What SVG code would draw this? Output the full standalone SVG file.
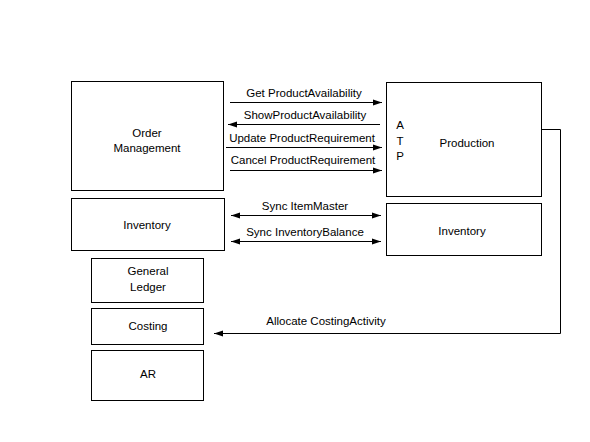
<svg xmlns="http://www.w3.org/2000/svg" width="590" height="442" viewBox="0 0 590 442">
<defs>
<style>
.box{fill:#fff;stroke:#000;stroke-width:1}
.t{font-family:"Liberation Sans",Arial,sans-serif;font-size:11.5px;fill:#000;text-anchor:middle}
.c{fill:none;stroke:#000;stroke-width:1}
</style>
<marker id="ah" markerWidth="10" markerHeight="8" refX="9" refY="4" orient="auto-start-reverse" markerUnits="userSpaceOnUse">
<path d="M0,1 L9,4 L0,7 Z" fill="#000"/>
</marker>
</defs>
<rect width="590" height="442" fill="#fff"/>
<g id="order-management"><rect class="box" x="71.5" y="81.5" width="152" height="109"/><text class="t" x="147" y="137">Order</text><text class="t" x="147" y="152">Management</text></g>
<g id="inventory-left"><rect class="box" x="71.5" y="198.5" width="153" height="52"/><text class="t" x="147" y="229">Inventory</text></g>
<g id="general-ledger"><rect class="box" x="91.5" y="258.5" width="112" height="44"/><text class="t" x="148" y="275">General</text><text class="t" x="148" y="291">Ledger</text></g>
<g id="costing"><rect class="box" x="91.5" y="308.5" width="112" height="36"/><text class="t" x="148" y="330">Costing</text></g>
<g id="ar"><rect class="box" x="91.5" y="350.5" width="112" height="50"/><text class="t" x="148" y="378">AR</text></g>
<g id="production"><rect class="box" x="386.5" y="82.5" width="155" height="114"/><text class="t" x="400" y="129">A</text><text class="t" x="400" y="145">T</text><text class="t" x="400" y="160">P</text><text class="t" x="467" y="147">Production</text></g>
<g id="inventory-right"><rect class="box" x="386.5" y="203.5" width="155" height="52"/><text class="t" x="462" y="235">Inventory</text></g>
<g id="connectors">
<line class="c" x1="230" y1="102.5" x2="382" y2="102.5" marker-end="url(#ah)"/>
<line class="c" x1="380" y1="124.5" x2="228" y2="124.5" marker-end="url(#ah)"/>
<line class="c" x1="226" y1="147.5" x2="382" y2="147.5" marker-end="url(#ah)"/>
<line class="c" x1="230" y1="170.5" x2="382" y2="170.5" marker-end="url(#ah)"/>
<line class="c" x1="231" y1="215.5" x2="381" y2="215.5" marker-start="url(#ah)" marker-end="url(#ah)"/>
<line class="c" x1="231" y1="241.5" x2="381" y2="241.5" marker-start="url(#ah)" marker-end="url(#ah)"/>
<polyline class="c" points="542,129.5 560.5,129.5 560.5,333.5 214,333.5" marker-end="url(#ah)"/>
<text class="t" x="304" y="97">Get ProductAvailability</text>
<text class="t" x="305" y="119">ShowProductAvailability</text>
<text class="t" x="302" y="142">Update ProductRequirement</text>
<text class="t" x="303" y="164">Cancel ProductRequirement</text>
<text class="t" x="305" y="210">Sync ItemMaster</text>
<text class="t" x="305" y="236">Sync InventoryBalance</text>
<text class="t" x="326" y="325">Allocate CostingActivity</text>
</g>
</svg>
